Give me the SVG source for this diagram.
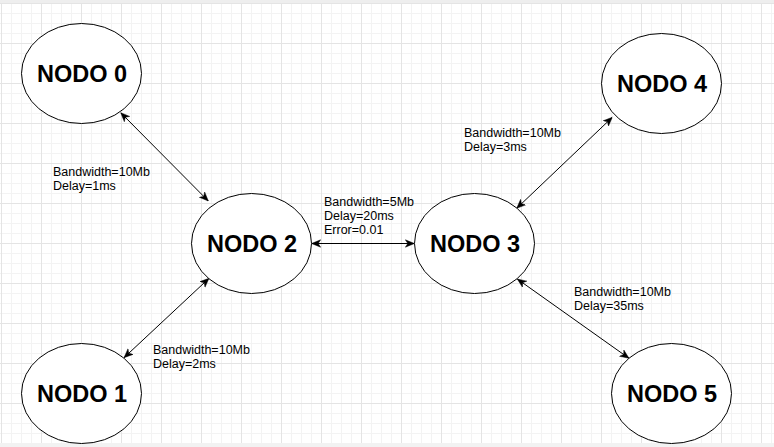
<svg xmlns="http://www.w3.org/2000/svg" width="774" height="447" viewBox="0 0 774 447">
  <style>
    .node ellipse { fill: #ffffff; stroke: #000000; stroke-width: 1; }
    .node text { font-family: "Liberation Sans", Arial, sans-serif; font-weight: bold; font-size: 23.5px; fill: #000000; text-anchor: middle; }
    .edge { stroke: #000000; stroke-width: 1; fill: none; marker-start: url(#arr); marker-end: url(#arr); }
    .lbl { font-family: "Liberation Sans", Arial, sans-serif; font-size: 12.5px; fill: #000000; }
  </style>
  <defs>
    <pattern id="grid" patternUnits="userSpaceOnUse" x="1" y="3" width="40" height="40">
      <path d="M10.5,0 V40 M20.5,0 V40 M30.5,0 V40 M0,10.5 H40 M0,20.5 H40 M0,30.5 H40" stroke="#f3f3f3" stroke-width="1"/>
      <path d="M0.5,0 V40 M0,0.5 H40" stroke="#e4e4e4" stroke-width="1"/>
    </pattern>
    <marker id="arr" markerUnits="userSpaceOnUse" viewBox="0 0 10 10" refX="10" refY="5" markerWidth="9" markerHeight="9" orient="auto-start-reverse">
      <path d="M10,5 L0,0.8 L2.8,5 L0,9.2 Z" fill="#000000" stroke="#000000" stroke-width="0.5"/>
    </marker>
  </defs>
  <rect x="0" y="0" width="774" height="447" fill="#ffffff"/>
  <rect x="0" y="0" width="774" height="447" fill="url(#grid)"/>
  <rect x="0" y="0" width="774" height="3" fill="#eeeeee"/>
  <rect x="0" y="443" width="774" height="4" fill="#f2f2f2"/>

  <g id="connectors">
    <line class="edge" x1="120.7" y1="112.7" x2="208.3" y2="201"/>
    <line class="edge" x1="124" y1="357.7" x2="209" y2="278.3"/>
    <line class="edge" x1="311.7" y1="243.5" x2="414.3" y2="243.5"/>
    <line class="edge" x1="516.7" y1="208.3" x2="612.3" y2="117.3"/>
    <line class="edge" x1="517.3" y1="279" x2="629" y2="358.3"/>
  </g>

  <g id="labels">
    <text class="lbl" x="53" y="176">Bandwidth=10Mb</text>
    <text class="lbl" x="53" y="190">Delay=1ms</text>
    <text class="lbl" x="153" y="353.5">Bandwidth=10Mb</text>
    <text class="lbl" x="153" y="367.5">Delay=2ms</text>
    <text class="lbl" x="324" y="206">Bandwidth=5Mb</text>
    <text class="lbl" x="324" y="220">Delay=20ms</text>
    <text class="lbl" x="324" y="234">Error=0.01</text>
    <text class="lbl" x="464" y="136.5">Bandwidth=10Mb</text>
    <text class="lbl" x="464" y="150.5">Delay=3ms</text>
    <text class="lbl" x="574" y="295.5">Bandwidth=10Mb</text>
    <text class="lbl" x="574" y="309.5">Delay=35ms</text>
  </g>

  <g id="nodo0" class="node">
    <ellipse cx="81.5" cy="73.5" rx="60" ry="50"/>
    <text x="82" y="82">NODO 0</text>
  </g>
  <g id="nodo1" class="node">
    <ellipse cx="81.5" cy="393.5" rx="60" ry="50"/>
    <text x="82" y="402">NODO 1</text>
  </g>
  <g id="nodo2" class="node">
    <ellipse cx="251.5" cy="243.5" rx="60" ry="50"/>
    <text x="252" y="252">NODO 2</text>
  </g>
  <g id="nodo3" class="node">
    <ellipse cx="474.5" cy="243.5" rx="60" ry="50"/>
    <text x="475" y="252">NODO 3</text>
  </g>
  <g id="nodo4" class="node">
    <ellipse cx="661.5" cy="83.5" rx="60" ry="50"/>
    <text x="662" y="92">NODO 4</text>
  </g>
  <g id="nodo5" class="node">
    <ellipse cx="671.5" cy="393.5" rx="60" ry="50"/>
    <text x="672" y="402">NODO 5</text>
  </g>
</svg>
